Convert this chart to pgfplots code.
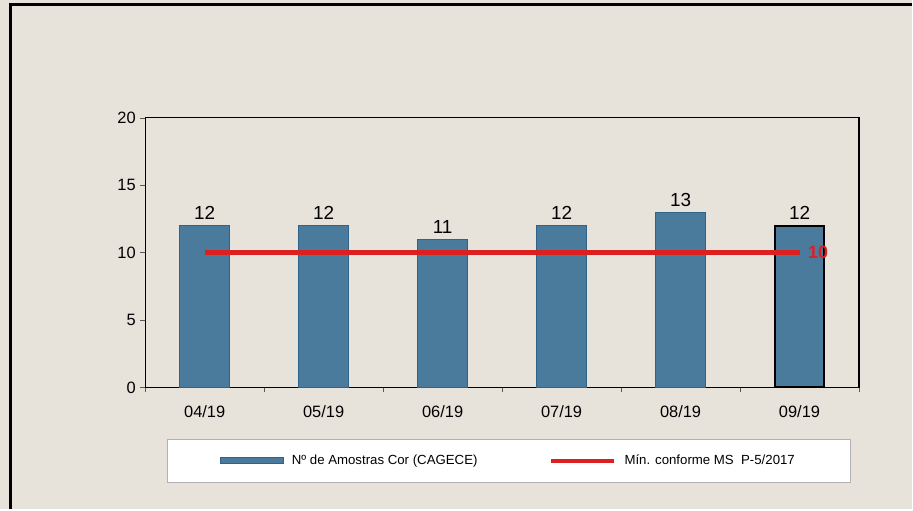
\documentclass[border=0pt]{standalone}
\usepackage{pgfplots}
\pgfplotsset{compat=1.18}
\usepackage{fontspec}
\setmainfont{Liberation Sans}
\definecolor{paper}{HTML}{E7E3DB}
\definecolor{barblue}{HTML}{4B7B9C}
\definecolor{bardark}{HTML}{2F6389}
\definecolor{minred}{HTML}{DC1F1F}

\begin{document}
\begin{tikzpicture}
\fill[paper] (0bp,0bp) rectangle (913bp,510bp);
\draw[line width=3bp] (11bp,0bp) -- (11bp,505bp) -- (913bp,505bp);

\begin{axis}[
  at={(205bp,122bp)}, anchor=origin,
  scale only axis,
  width=715bp, height=270bp,
  xmin=-0.5, xmax=5.5,
  ymin=0, ymax=20,
  ytick={0,5,10,15,20},
  xtick={-0.5,0.5,1.5,2.5,3.5,4.5,5.5},
  xticklabels={},
  extra x ticks={0,1,2,3,4,5},
  extra x tick labels={04/19,05/19,06/19,07/19,08/19,09/19},
  extra x tick style={major tick length=0pt, xticklabel style={yshift=-15bp}},
  tick align=outside,
  tick pos=left,
  major tick length=5bp,
  every tick/.style={gray!70!black, line width=0.6pt},
  axis line style={line width=1.3pt},
  axis background/.style={fill=paper},
  tick label style={font=\fontsize{16.5}{18}\selectfont},
  /pgf/number format/assume math mode=true,
  yticklabel style={xshift=-1bp},
  legend columns=2,
  legend style={
    at={(0.509,-0.193)}, anchor=north,
    draw=gray!60, fill=white,
    font=\fontsize{13.3}{15}\selectfont,
    inner xsep=53bp, inner ysep=13.5bp,
    /tikz/every even column/.append style={column sep=70bp},
  },
  legend cell align=left,
  clip=false,
]
\addplot[ybar, bar width=50bp, fill=barblue, draw=bardark, line width=0.8pt,
  nodes near coords, nodes near coords style={font=\fontsize{19}{21}\selectfont, black, yshift=2bp},
  area legend,
  legend image code/.code={\draw[fill=barblue, draw=bardark] (0bp,-3bp) rectangle (63bp,3bp); \path (69bp,0bp);}]
  coordinates {(0,12) (1,12) (2,11) (3,12) (4,13) (5,12)};
\addlegendentry{Nº de Amostras Cor (CAGECE)}

\addplot[minred, line width=4.5bp,
  legend image code/.code={\draw[minred, line width=4bp] (0bp,0bp) -- (63bp,0bp); \path (69bp,0bp);}]
  coordinates {(0,10) (5,10)};
\addlegendentry{Mín. conforme MS\ \ P-5/2017}

\addplot[ybar, bar width=50bp, fill=barblue, draw=black, line width=2pt, forget plot]
  coordinates {(5,12)};
\addplot[minred, line width=4.5bp, forget plot] coordinates {(4,10) (5,10)};

\node[anchor=west, minred, font=\bfseries\fontsize{18}{20}\selectfont, inner sep=0pt]
  at (axis cs:5.07,10) {10};
\end{axis}
\end{tikzpicture}
\end{document}
